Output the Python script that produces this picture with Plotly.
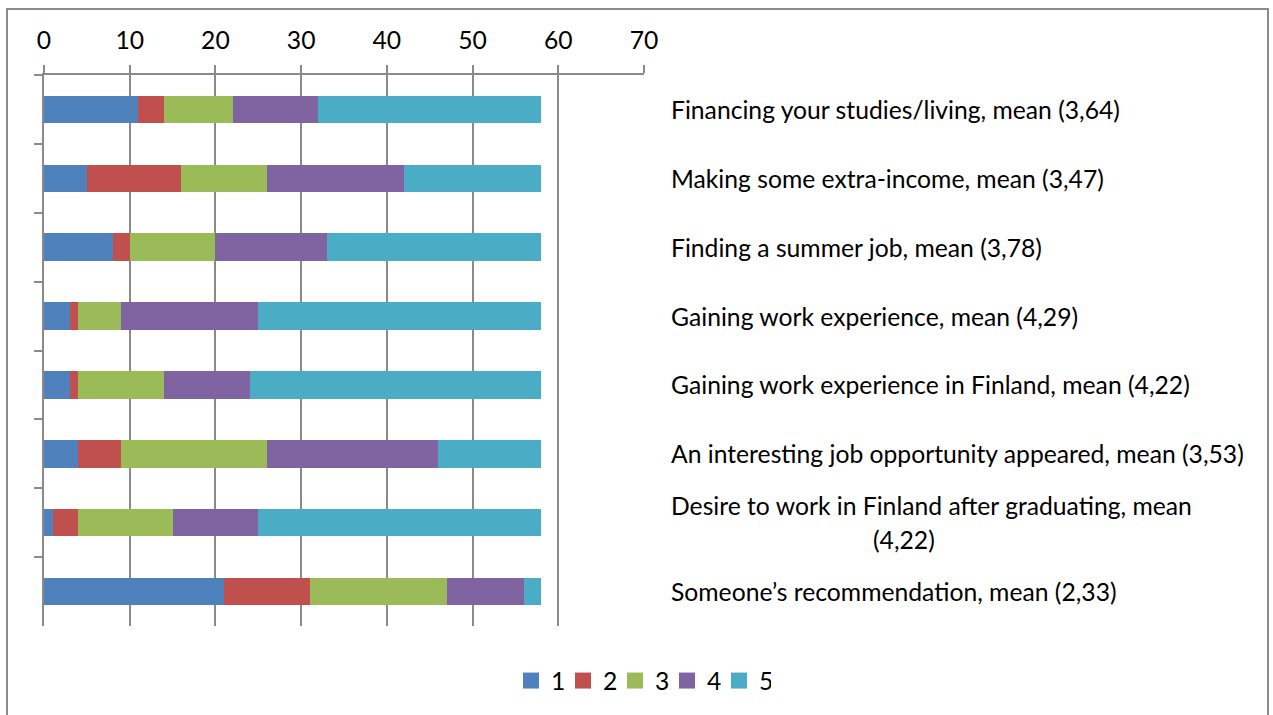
import plotly.graph_objects as go

# Survey: motives for working while studying, counts of answers 1..5 (n = 58)
categories = [
    "Financing your studies/living, mean (3,64)",
    "Making some extra-income, mean (3,47)",
    "Finding a summer job, mean (3,78)",
    "Gaining work experience, mean (4,29)",
    "Gaining work experience in Finland, mean (4,22)",
    "An interesting job opportunity appeared, mean (3,53)",
    "Desire to work in Finland after graduating, mean|(4,22)",
    "Someone\u2019s recommendation, mean (2,33)",
]
series_names = ["1", "2", "3", "4", "5"]
answers_1 = [11, 5, 8, 3, 3, 4, 1, 21]
answers_2 = [3, 11, 2, 1, 1, 5, 3, 10]
answers_3 = [8, 10, 10, 5, 10, 17, 11, 16]
answers_4 = [10, 16, 13, 16, 10, 20, 10, 9]
answers_5 = [26, 16, 25, 33, 34, 12, 33, 2]
x_ticks = [0, 10, 20, 30, 40, 50, 60, 70]

colors = ["#4F81BD", "#C0504D", "#9BBB59", "#8064A2", "#4BACC6"]
FONT = "Lato"
FS = 24.7
GRID = "#8A8A8A"

W, H = 1273, 715
L, T = 44, 75
PW, PH = 600, 552

fig = go.Figure()
for name, vals, col in zip(series_names,
                           [answers_1, answers_2, answers_3, answers_4, answers_5],
                           colors):
    fig.add_trace(go.Bar(
        y=categories, x=vals, name=name, orientation="h",
        marker=dict(color=col, line=dict(width=0)),
        legendgroup=name, showlegend=False,
    ))
    # square legend key for the series
    fig.add_trace(go.Scatter(
        x=[None], y=[None], mode="markers", name=name, legendgroup=name,
        marker=dict(symbol="square", size=20, color=col),
    ))

# Category labels to the right of the plot area
label_x = (669 - L) / PW
for cat in categories:
    lines = cat.split("|")
    if len(lines) == 1:
        fig.add_annotation(x=label_x, y=cat, xref="paper", yref="y",
                           text=lines[0], showarrow=False,
                           xanchor="left", yanchor="middle", align="left",
                           font=dict(family=FONT, size=FS, color="#000"))
    else:
        fig.add_annotation(x=label_x, y=cat, xref="paper", yref="y",
                           text=lines[0], showarrow=False, yshift=17,
                           xanchor="left", yanchor="middle", align="left",
                           font=dict(family=FONT, size=FS, color="#000"))
        fig.add_annotation(x=(904 - L) / PW, y=cat, xref="paper", yref="y",
                           text=lines[1], showarrow=False, yshift=-17,
                           xanchor="center", yanchor="middle", align="center",
                           font=dict(family=FONT, size=FS, color="#000"))

# Outer chart frame
fig.add_shape(type="rect", xref="paper", yref="paper",
              x0=(7 - L) / PW, x1=(1268 - L) / PW,
              y0=(T + PH - 725) / PH, y1=(T + PH - 9) / PH,
              line=dict(color="#8C8C8C", width=2), fillcolor="rgba(0,0,0,0)",
              layer="below")

fig.update_layout(
    width=W, height=H,
    margin=dict(l=L, r=W - L - PW, t=T, b=H - T - PH, pad=0),
    barmode="stack", bargap=0.6,
    plot_bgcolor="white", paper_bgcolor="white",
    font=dict(family=FONT, size=FS, color="#000"),
    showlegend=True,
    legend=dict(orientation="h", x=(641 - L) / PW, xanchor="center",
                y=(T + PH - 681) / PH, yanchor="middle",
                font=dict(family=FONT, size=FS), traceorder="normal",
                itemwidth=30, entrywidth=7, entrywidthmode="pixels",
                bgcolor="rgba(0,0,0,0)"),
    xaxis=dict(side="top", range=[0, 70], tickvals=x_ticks,
               showgrid=True, gridcolor=GRID, gridwidth=1.5,
               showline=True, linecolor=GRID, linewidth=1.5,
               ticks="outside", ticklen=8, tickcolor=GRID, tickwidth=1.5,
               ticklabelstandoff=6,
               zeroline=False, tickfont=dict(family=FONT, size=FS, color="#000")),
    yaxis=dict(categoryorder="array", categoryarray=categories,
               autorange="reversed", showticklabels=False,
               showgrid=False, zeroline=False,
               showline=True, linecolor=GRID, linewidth=1.5,
               ticks="outside", ticklen=8, tickcolor=GRID, tickwidth=1.5,
               tickson="boundaries"),
)

fig.write_html("out.html")
